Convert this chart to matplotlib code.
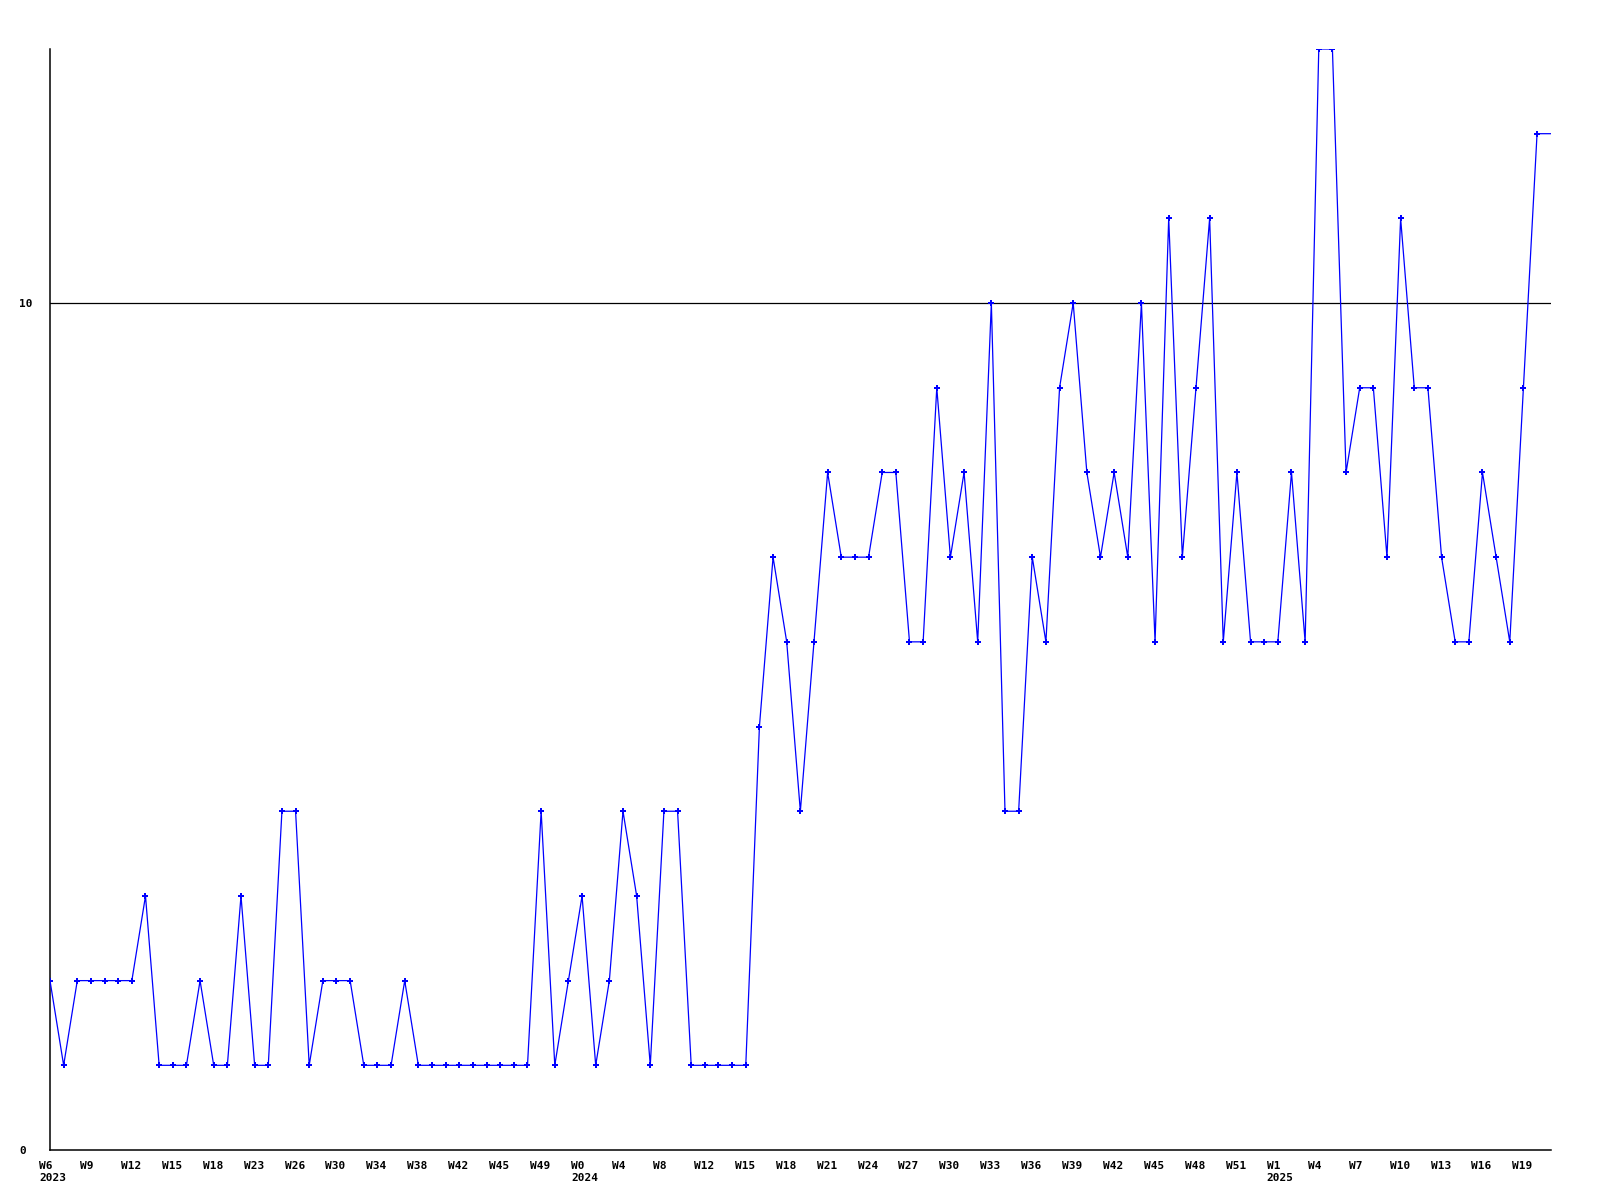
import matplotlib
matplotlib.use("Agg")
import matplotlib.pyplot as plt
from matplotlib.transforms import ScaledTranslation
import numpy as np

# Weekly values (one point per week, 2023 W6 .. 2025 W20)
values = [2, 1, 2, 2, 2, 2, 2, 3, 1, 1,
          1, 2, 1, 1, 3, 1, 1, 4, 4, 1,
          2, 2, 2, 1, 1, 1, 2, 1, 1, 1,
          1, 1, 1, 1, 1, 1, 4, 1, 2, 3,
          1, 2, 4, 3, 1, 4, 4, 1, 1, 1,
          1, 1, 5, 7, 6, 4, 6, 8, 7, 7,
          7, 8, 8, 6, 6, 9, 7, 8, 6, 10,
          4, 4, 7, 6, 9, 10, 8, 7, 8, 7,
          10, 6, 11, 7, 9, 11, 6, 8, 6, 6,
          6, 8, 6, 13, 13, 8, 9, 9, 7, 11,
          9, 9, 7, 6, 6, 8, 7, 6, 9, 12,
          12]

# Tick labels, one every third point
tick_labels = ["W6", "W9", "W12", "W15", "W18", "W23", "W26", "W30", "W34",
               "W38", "W42", "W45", "W49", "W0", "W4", "W8", "W12", "W15",
               "W18", "W21", "W24", "W27", "W30", "W33", "W36", "W39", "W42",
               "W45", "W48", "W51", "W1", "W4", "W7", "W10", "W13", "W16", "W19"]
year_labels = {0: "2023", 13: "2024", 30: "2025"}

y_ticks = [0, 10]

fig = plt.figure(figsize=(16, 12), dpi=100)
ax = fig.add_axes([50 / 1600, 50 / 1200, 1500.7 / 1600, 1101 / 1200])

x = np.arange(len(values))
ax.plot(x, values, color="#0000ff", linewidth=0.9, marker="P", markersize=4.5,
        markeredgewidth=0, markevery=slice(0, len(values) - 1), zorder=3)

ax.axhline(10, color="black", linewidth=0.9, zorder=2)

ax.set_xlim(0, len(values) - 1)
ax.set_ylim(0, 13)

for s in ("top", "right"):
    ax.spines[s].set_visible(False)
for s in ("left", "bottom"):
    ax.spines[s].set_color("black")
    ax.spines[s].set_linewidth(1.1)

font = dict(family="DejaVu Sans Mono", weight="bold", size=8)

tick_pos = x[::3][:len(tick_labels)]
labels = [lab + ("\n" + year_labels[i] if i in year_labels else "")
          for i, lab in enumerate(tick_labels)]
ax.set_xticks(tick_pos)
ax.set_xticklabels(labels, fontdict=font, linespacing=1.25)
ax.tick_params(axis="x", length=0, pad=8)
off = ScaledTranslation(-11 / 100, 0, fig.dpi_scale_trans)
for lab in ax.get_xticklabels():
    lab.set_horizontalalignment("left")
    lab.set_transform(lab.get_transform() + off)

ax.set_yticks(y_ticks)
ax.set_yticklabels([str(v) for v in y_ticks], fontdict=font)
ax.tick_params(axis="y", length=0, pad=22)
for lab in ax.get_yticklabels():
    lab.set_horizontalalignment("left")

fig.savefig("out.png", dpi=100, facecolor="white")
